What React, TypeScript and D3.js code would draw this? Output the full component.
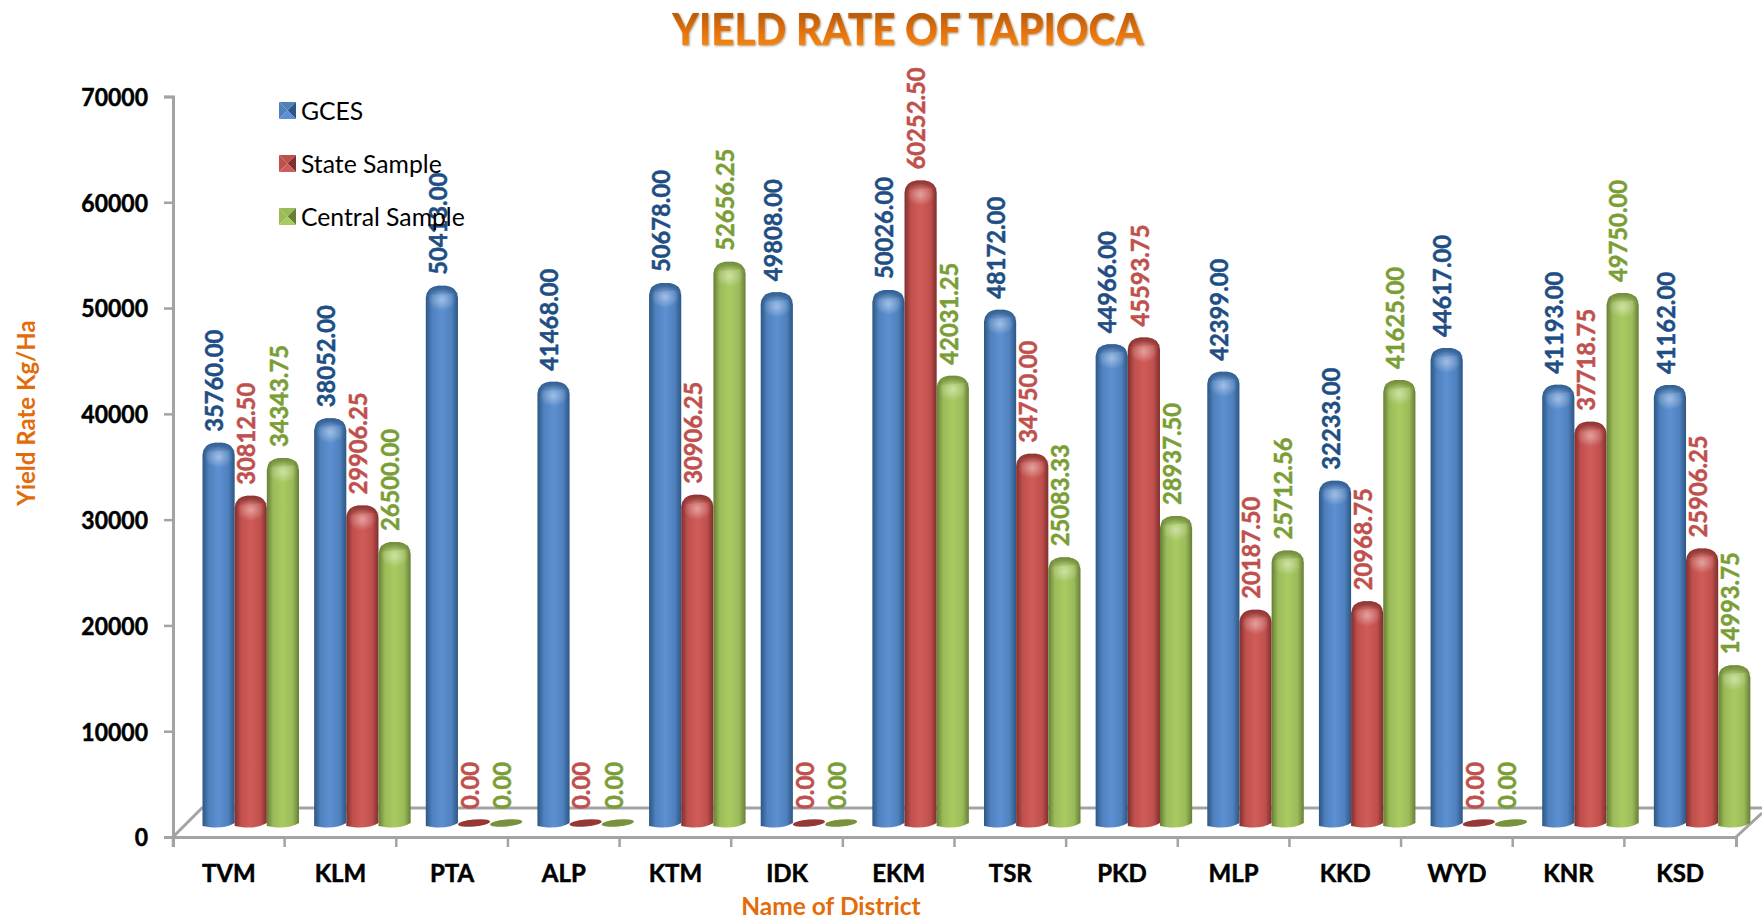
import * as d3 from "d3";
import React, { useRef, useEffect } from "react";

const districts = ["TVM", "KLM", "PTA", "ALP", "KTM", "IDK", "EKM", "TSR", "PKD", "MLP", "KKD", "WYD", "KNR", "KSD"];
const seriesNames = ["GCES", "State Sample", "Central Sample"];
const gces = [35760, 38052, 50413, 41468, 50678, 49808, 50026, 48172, 44966, 42399, 32233, 44617, 41193, 41162];
const stateSample = [30812.5, 29906.25, 0, 0, 30906.25, 0, 60252.5, 34750, 45593.75, 20187.5, 20968.75, 0, 37718.75, 25906.25];
const centralSample = [34343.75, 26500, 0, 0, 52656.25, 0, 42031.25, 25083.33, 28937.5, 25712.56, 41625, 0, 49750, 14993.75];
const yTicks = [0, 10000, 20000, 30000, 40000, 50000, 60000, 70000];

const seriesValues = [gces, stateSample, centralSample];
// dark edge, middle, light centre, label colour
const palette = [
    { dark: "#2c5685", mid: "#4f81bd", light: "#5c90d2", label: "#1f4e85", flat: "#3a6ba5" },
    { dark: "#7f2f2d", mid: "#c0504d", light: "#d05c59", label: "#c0504d", flat: "#953735" },
    { dark: "#667f35", mid: "#9bbb59", light: "#a8cb60", label: "#7a9e35", flat: "#76923c" },
];

const FONT = "Lato, Carlito, sans-serif";
const axisLeft = 173;
const axisRight = 1736;
const axisBottomY = 837;
const axisTopY = 96.5;
const depthX = 29;
const depthY = 29;

function App() {
    const ref = useRef<SVGSVGElement>(null);

    useEffect(() => {
        const svg = d3.select(ref.current);
        svg.selectAll("*").remove();

        const x = d3.scaleBand<string>().domain(districts).range([axisLeft, axisRight]);
        const inner = d3.scaleBand<string>().domain(seriesNames).range([depthX + 0.5, depthX + 97]);
        const y = d3.scaleLinear().domain([0, 70000]).range([axisBottomY, axisTopY]);
        // the bars stand on the floor, behind the front edge, and the depth stretches them a little
        const barY = d3.scaleLinear().domain([0, 70000]).range([826, 76]);
        const barW = inner.bandwidth();

        const defs = svg.append("defs");
        palette.forEach((p, i) => {
            const g = defs.append("linearGradient").attr("id", `body${i}`).attr("x1", 0).attr("x2", 1).attr("y1", 0).attr("y2", 0);
            [[0, p.dark], [0.2, p.mid], [0.5, p.light], [0.8, p.mid], [1, p.dark]].forEach(([o, c]) =>
                g.append("stop").attr("offset", o as number).attr("stop-color", c as string));

            const r = defs.append("radialGradient").attr("id", `glow${i}`);
            r.append("stop").attr("offset", 0).attr("stop-color", "#ffffff").attr("stop-opacity", 0.42);
            r.append("stop").attr("offset", 1).attr("stop-color", "#ffffff").attr("stop-opacity", 0);

            const c = defs.append("linearGradient").attr("id", `cap${i}`).attr("x1", 0).attr("x2", 0).attr("y1", 0).attr("y2", 1);
            c.append("stop").attr("offset", 0).attr("stop-color", p.dark).attr("stop-opacity", 0.85);
            c.append("stop").attr("offset", 1).attr("stop-color", p.dark).attr("stop-opacity", 0);
        });
        const tg = defs.append("linearGradient").attr("id", "titleFill").attr("x1", 0).attr("x2", 0).attr("y1", 0).attr("y2", 1);
        tg.append("stop").attr("offset", 0.1).attr("stop-color", "#a85408");
        tg.append("stop").attr("offset", 0.55).attr("stop-color", "#e36f0a");
        tg.append("stop").attr("offset", 0.9).attr("stop-color", "#f88c12");

        // title
        svg.append("text").attr("transform", "translate(908,45) scale(0.92,1)")
            .attr("text-anchor", "middle").attr("font-family", FONT).attr("font-weight", 900).attr("font-size", 44)
            .attr("fill", "url(#titleFill)")
            .style("filter", "drop-shadow(1px 1px 1px rgba(110,80,40,0.6))")
            .text("YIELD RATE OF TAPIOCA");

        // back wall and floor edges
        const frame = svg.append("g").attr("fill", "none").attr("stroke", "#a3a3a3").attr("stroke-width", 3);
        frame.append("path").attr("d", d3.line()([[axisLeft, axisBottomY], [axisLeft + depthX, axisBottomY - depthY], [1762, axisBottomY - depthY]]));
        frame.append("path").attr("d", d3.line()([[axisRight, axisBottomY], [1762, axisBottomY - 24]]));

        // axes
        const yAxis = d3.axisLeft(y).tickValues(yTicks).tickFormat(d => String(d)).tickSize(9).tickPadding(10);
        const xAxis = d3.axisBottom(x).tickSize(10).tickPadding(12);

        const yG = svg.append("g").attr("transform", `translate(${axisLeft},0)`).call(yAxis);
        const xG = svg.append("g").attr("transform", `translate(0,${axisBottomY})`).call(xAxis);
        // band axis puts ticks in the middle of the band, the reference has them on the edges
        xG.selectAll<SVGGElement, string>(".tick line").attr("x1", -x.bandwidth() / 2).attr("x2", -x.bandwidth() / 2);
        xG.append("line").attr("x1", axisRight).attr("x2", axisRight).attr("y1", 0).attr("y2", 10).attr("stroke", "#a3a3a3");
        [yG, xG].forEach(g => {
            g.selectAll("path.domain").attr("stroke", "#a3a3a3").attr("stroke-width", 3);
            g.selectAll(".tick line").attr("stroke", "#a3a3a3").attr("stroke-width", 2.5);
        });
        yG.selectAll<SVGTextElement, number>(".tick text")
            .attr("font-family", FONT).attr("font-weight", 700).attr("font-size", 25).attr("fill", "#000")
            .attr("stroke", "#000").attr("stroke-width", 0.5)
            .attr("dy", null).attr("dominant-baseline", "central")
            .attr("x", 0)
            .attr("transform", "translate(-25,-1) scale(0.92,1)");
        xG.selectAll<SVGTextElement, string>(".tick text")
            .attr("font-family", FONT).attr("font-weight", 700).attr("font-size", 24).attr("fill", "#000")
            .attr("stroke", "#000").attr("stroke-width", 0.5)
            .attr("y", 45).attr("dy", null);

        // bars
        const groups = svg.selectAll(".district").data(districts).enter().append("g")
            .attr("class", "district")
            .attr("transform", d => `translate(${x(d)},0)`);

        seriesNames.forEach((name, s) => {
            const vals = seriesValues[s];
            const bar = groups.append("g").attr("transform", `translate(${inner(name)},0)`);
            bar.each(function (d) {
                const i = districts.indexOf(d);
                const v = vals[i];
                const g = d3.select(this);
                const base = barY(0);
                const top = barY(v);
                const cx = barW / 2;
                if (v === 0) {
                    g.append("ellipse").attr("cx", cx).attr("cy", base - 3).attr("rx", barW / 2).attr("ry", 3.5)
                        .attr("transform", `rotate(-5,${cx},${base - 3})`).attr("fill", palette[s].flat);
                } else {
                    const r = 12;
                    const shape = (b: number) => {
                        const p = d3.path();
                        p.moveTo(0, b);
                        p.lineTo(0, top + r);
                        p.quadraticCurveTo(1, top + 1, r, top);
                        p.lineTo(barW - r, top);
                        p.quadraticCurveTo(barW - 1, top + 1, barW, top + r);
                        p.lineTo(barW, b - 3);
                        return p;
                    };
                    const body = shape(base);
                    body.quadraticCurveTo(cx + 6, base + 3, 6, base + 1);
                    body.closePath();
                    g.append("path").attr("d", body.toString()).attr("fill", `url(#body${s})`);

                    const cap = shape(top + 10);
                    cap.closePath();
                    g.append("path").attr("d", cap.toString()).attr("fill", `url(#cap${s})`);
                    g.append("ellipse").attr("cx", cx).attr("cy", top + 14).attr("rx", barW / 2 - 2).attr("ry", 11)
                        .attr("fill", `url(#glow${s})`);
                }
            });
        });

        // value labels go on top of all the bars
        seriesNames.forEach((name, s) => {
            const vals = seriesValues[s];
            svg.append("g").selectAll("text").data(districts).enter().append("text")
                .attr("transform", (d, i) => {
                    const lx = (x(d) ?? 0) + (inner(name) ?? 0) + barW / 2 - 5;
                    const ly = barY(vals[i]) - (vals[i] === 0 ? 17 : 11);
                    return `translate(${lx},${ly}) rotate(-90) scale(0.95,1)`;
                })
                .attr("dominant-baseline", "central")
                .attr("font-family", FONT).attr("font-weight", 700).attr("font-size", 25)
                .attr("fill", palette[s].label)
                .attr("stroke", palette[s].label).attr("stroke-width", 0.5)
                .text((d, i) => vals[i].toFixed(2));
        });

        // legend
        const legend = svg.append("g").selectAll("g").data(seriesNames).enter().append("g")
            .attr("transform", (d, i) => `translate(279,${102 + i * 53})`);
        legend.each(function (d, i) {
            const g = d3.select(this);
            const p = palette[i];
            const size = 17;
            const c = size / 2;
            const tri = (pts: [number, number][], fill: string) =>
                g.append("path").attr("d", d3.line()(pts) + "Z").attr("fill", fill);
            tri([[0, 0], [size, 0], [c, c]], p.mid);
            tri([[0, 0], [0, size], [c, c]], p.mid);
            tri([[size, 0], [size, size], [c, c]], p.dark);
            tri([[0, size], [size, size], [c, c]], p.light);
        });
        legend.append("text")
            .attr("transform", "translate(22,8) scale(0.99,1)")
            .attr("dominant-baseline", "central")
            .attr("font-family", FONT).attr("font-size", 25).attr("fill", "#000")
            .text(d => d);

        // axis titles
        svg.append("text").attr("transform", "translate(25,413) rotate(-90)")
            .attr("text-anchor", "middle").attr("dominant-baseline", "central")
            .attr("font-family", FONT).attr("font-weight", 700).attr("font-size", 24).attr("fill", "#e36c0a")
            .text("Yield Rate Kg/Ha");
        svg.append("text").attr("x", 831).attr("y", 905)
            .attr("text-anchor", "middle").attr("dominant-baseline", "central")
            .attr("font-family", FONT).attr("font-weight", 700).attr("font-size", 24.5).attr("fill", "#e36c0a")
            .text("Name of District");
    }, []);

    return (
        <svg ref={ref} width={1762} height={917}
            style={{ position: "absolute", left: 0, top: 0, background: "#fff" }} />
    );
}

export default App;
